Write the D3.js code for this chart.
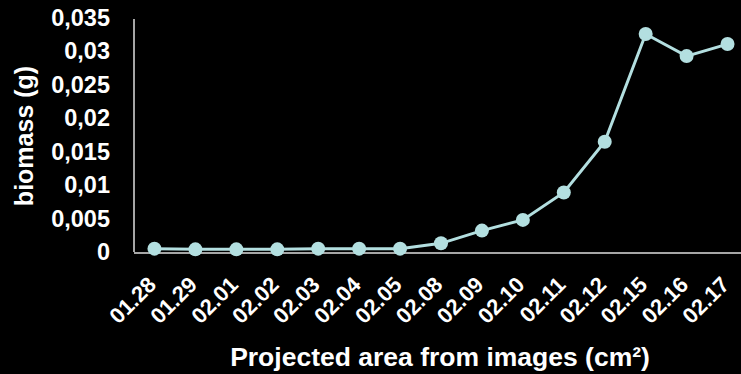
<!DOCTYPE html>
<html>
<head>
<meta charset="utf-8">
<script src="https://cdn.jsdelivr.net/npm/d3@7"></script>
<style>
    body { margin: 0; background: #000; }
    svg { display: block; font-family: "Liberation Sans", Arial, sans-serif; font-weight: bold; }
</style>
</head>
<body>
<div id="chart"></div>
<script>
    "use strict";

    var dates = ["01.28", "01.29", "02.01", "02.02", "02.03", "02.04", "02.05",
                 "02.08", "02.09", "02.10", "02.11", "02.12", "02.15", "02.16", "02.17"];
    var biomass = [0.0005, 0.0004, 0.0004, 0.0004, 0.0005, 0.0005, 0.0005,
                   0.0013, 0.0032, 0.0048, 0.0089, 0.0165, 0.0326, 0.0293, 0.0311];
    var yTicks = [0, 0.005, 0.01, 0.015, 0.02, 0.025, 0.03, 0.035];

    var ch = {w: 741, h: 374};
    ch.margin = {top: 18, left: 134, bottom: 122, right: -7};
    var font = "Liberation Sans, Arial, sans-serif";

    var svg = d3.select("#chart").append("svg")
        .attr("width", ch.w).attr("height", ch.h);
    svg.append("rect").attr("width", ch.w).attr("height", ch.h).attr("fill", "#000");

    var x = d3.scaleBand().domain(dates)
        .range([ch.margin.left, ch.w - ch.margin.right]);
    var y = d3.scaleLinear().domain([0, 0.035])
        .range([ch.h - ch.margin.bottom, ch.margin.top]);
    var fmt = function (d) { return String(d).replace(".", ","); };

    //y axis: line and labels only
    var yAxis = svg.append("g")
        .attr("transform", "translate(" + ch.margin.left + ",0)")
        .call(d3.axisLeft(y).tickValues(yTicks).tickFormat(fmt).tickSize(0).tickPadding(24));
    yAxis.select(".domain").attr("stroke", "#a6a6a6").attr("stroke-width", 2)
        .attr("d", "M0," + (ch.margin.top + 1) + "V" + y(0));
    yAxis.selectAll("text").attr("fill", "#fff").attr("font-size", 23.5)
        .attr("font-family", font).attr("font-weight", "bold");

    //x axis, labels turned 45 degrees and hung below the line
    var xAxis = svg.append("g")
        .attr("transform", "translate(0," + (y(0) + 1) + ")")
        .call(d3.axisBottom(x).tickSize(0).tickPadding(0));
    xAxis.select(".domain").attr("stroke", "#a6a6a6").attr("stroke-width", 2)
        .attr("d", "M" + ch.margin.left + ",0H" + ch.w);
    xAxis.selectAll("text")
        .attr("fill", "#fff").attr("font-size", 22)
        .attr("font-family", font).attr("font-weight", "bold")
        .attr("text-anchor", "end")
        .attr("dy", 0).attr("y", 0)
        .attr("transform", "translate(3,33) rotate(-45)");

    var line = d3.line()
        .x(function (d, i) { return x(dates[i]) + x.bandwidth() / 2; })
        .y(function (d) { return y(d); });

    svg.append("path").datum(biomass)
        .attr("d", line).attr("fill", "none")
        .attr("stroke", "#b3dfe0").attr("stroke-width", 3);

    svg.selectAll("circle.pt").data(biomass).enter().append("circle")
        .attr("class", "pt")
        .attr("cx", function (d, i) { return x(dates[i]) + x.bandwidth() / 2; })
        .attr("cy", function (d) { return y(d); })
        .attr("r", 7)
        .attr("fill", "#b3dfe0");

    svg.append("text")
        .attr("x", 440).attr("y", 366)
        .attr("text-anchor", "middle").attr("fill", "#fff").attr("font-size", 26.5)
        .text("Projected area from images (cm²)");

    svg.append("text")
        .attr("transform", "translate(33,136) rotate(-90)")
        .attr("text-anchor", "middle").attr("fill", "#fff").attr("font-size", 25)
        .text("biomass (g)");
</script>
</body>
</html>
